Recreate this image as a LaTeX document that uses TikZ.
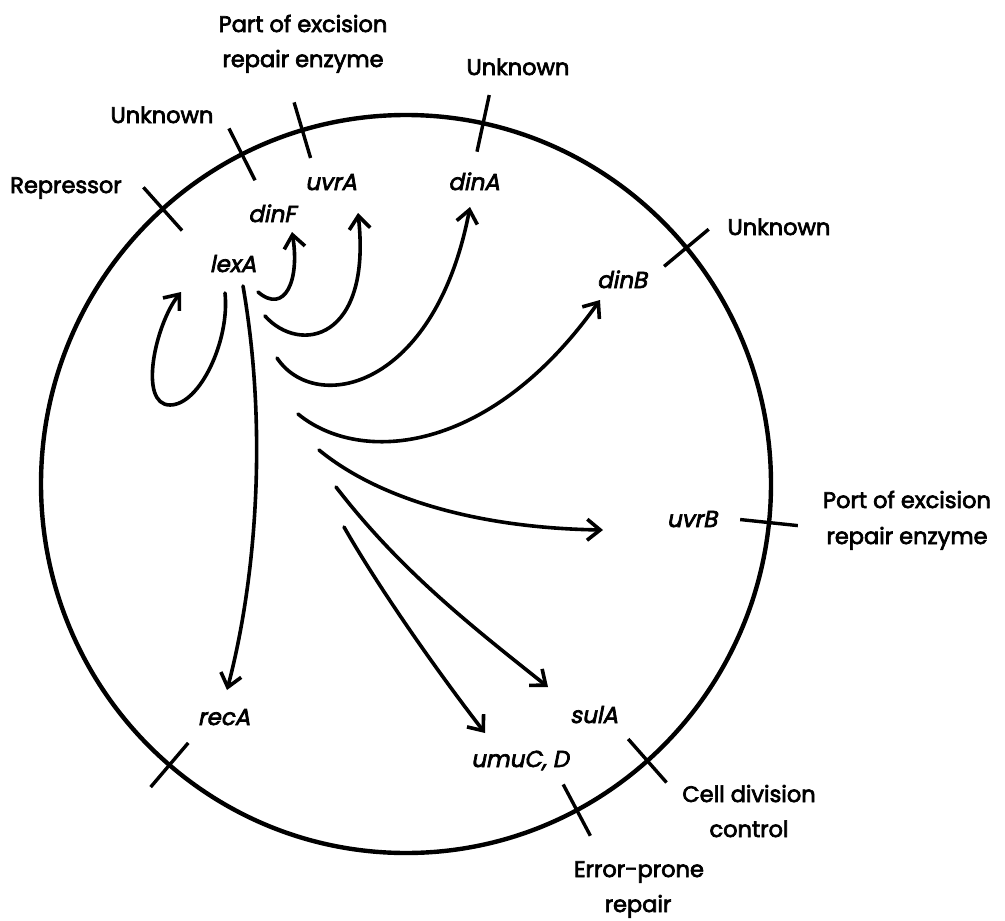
\documentclass[tikz,border=0pt]{standalone}
\usepackage{fontspec}
\setmainfont{Poppins}[FakeBold=3]
\newfontfamily\genefont{Poppins}[FakeSlant=0.2,FakeBold=3]
\usetikzlibrary{arrows.meta}
\begin{document}
\begin{tikzpicture}[x=1pt,y=-1pt,
  lab/.style={anchor=base, inner sep=0pt, font=\fontsize{22.5}{26}\selectfont},
  gene/.style={anchor=base, inner sep=0pt, font=\genefont\fontsize{23}{26}\selectfont},
  conn/.style={line width=3.6pt, line cap=round, -{Straight Barb[length=13pt,width=21pt]}},
  tickmark/.style={line width=3.4pt},
  cell/.style={line width=4.4pt}]
\path[fill=white,use as bounding box] (0,0) rectangle (1005,921);

% chromosome
\coordinate (c) at (406,484);
\draw[cell] (c) ellipse [x radius=365, y radius=369];
\begin{scope}[shift={(406,484)}]
  \foreach \a in {-131.8,-116.7,-106.5,-77.8,-39.8,6.0,48.6,62.1,130.4}
    \draw[tickmark] (\a:336 and 340) -- (\a:394 and 398);
\end{scope}

% function labels
\node[lab] (f1a) at (303,32) {Part of excision};
\node[lab] (f1b) at (303,67) {repair enzyme};
\node[lab] (f2) at (162,123) {Unknown};
\node[lab] (f3) at (518,75) {Unknown};
\node[lab] (f4) at (66,193) {Repressor};
\node[lab] (f5) at (779,235) {Unknown};
\node[lab] (f6a) at (907,508) {Port of excision};
\node[lab] (f6b) at (907,544) {repair enzyme};
\node[lab] (f7a) at (749,802) {Cell division};
\node[lab] (f7b) at (749,837) {control};
\node[lab] (f8a) at (639,877) {Error-prone};
\node[lab] (f8b) at (638,912) {repair};

% genes
\node[gene] (lexA) at (233,272) {lexA};
\node[gene] (dinF) at (272,222) {dinF};
\node[gene] (uvrA) at (331,190) {uvrA};
\node[gene] (dinA) at (474,190) {dinA};
\node[gene] (dinB) at (622,288) {dinB};
\node[gene] (uvrB) at (692,527) {uvrB};
\node[gene] (recA) at (224,725) {recA};
\node[gene] (umuC) at (520,767) {umuC, D};
\node[gene] (sulA) at (594,723) {sulA};

% connector end points
\coordinate (s0) at (225,293); \coordinate (e0) at (181,292);
\coordinate (s1) at (243,286); \coordinate (e1) at (227,690);
\coordinate (s2) at (258,292); \coordinate (e2) at (292,232);
\coordinate (s3) at (265,316); \coordinate (e3) at (358,213);
\coordinate (s4) at (277,358); \coordinate (e4) at (470,207);
\coordinate (s5) at (298,414); \coordinate (e5) at (600,300);
\coordinate (s6) at (319,450); \coordinate (e6) at (603,530);
\coordinate (s7) at (336,487); \coordinate (e7) at (548,687);
\coordinate (s8) at (344,527); \coordinate (e8) at (485,733);

% connectors
\draw[conn] (s0) .. controls (230,340) and (200,405) .. (170,405)
                 .. controls (138,405) and (155,325) .. (e0);
\draw[conn] (s1) .. controls (268,430) and (256,580) .. (e1);
\draw[conn] (s2) .. controls (285,315) and (300,280) .. (e2);
\draw[conn] (s3) .. controls (300,355) and (372,340) .. (e3);
\draw[conn] (s4) .. controls (315,415) and (435,390) .. (e4);
\draw[conn] (s5) .. controls (360,465) and (490,455) .. (e5);
\draw[conn] (s6) .. controls (380,500) and (480,528) .. (e6);
\draw[conn] (s7) .. controls (400,570) and (470,625) .. (e7);
\draw[conn] (s8) .. controls (380,590) and (440,675) .. (e8);
\end{tikzpicture}
\end{document}
